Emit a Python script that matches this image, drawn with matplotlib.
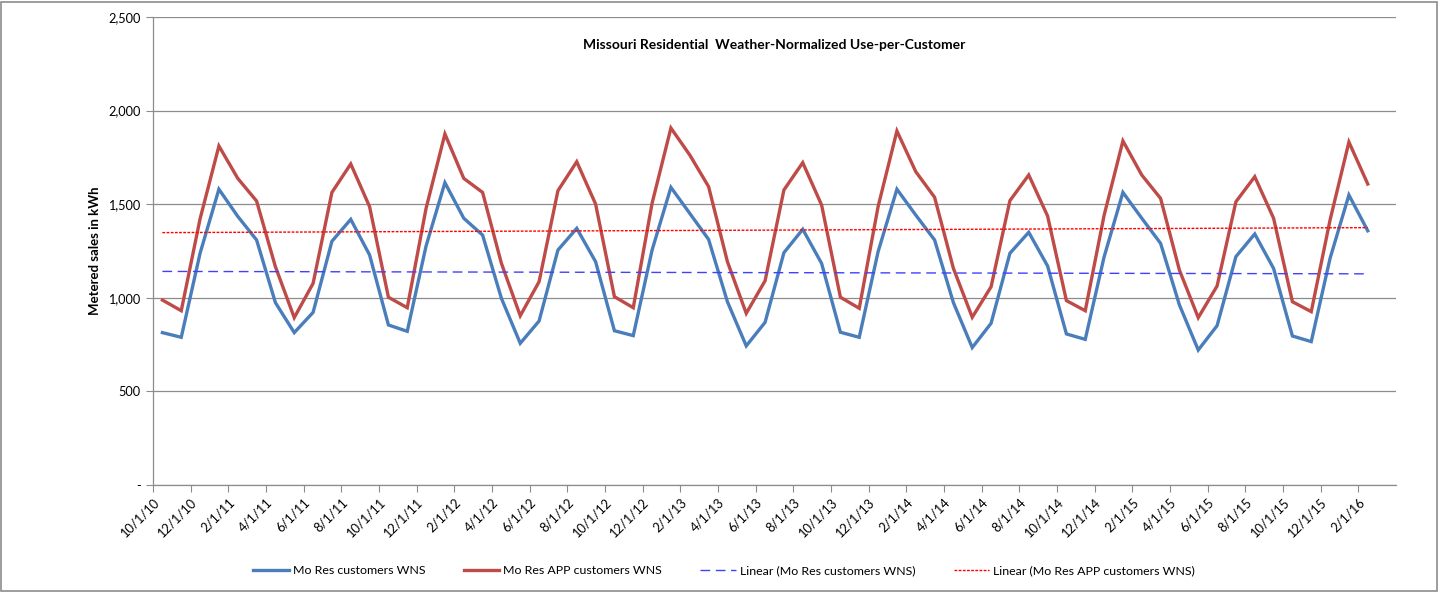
import numpy as np
import matplotlib
matplotlib.use("Agg")
import matplotlib.pyplot as plt
from matplotlib.patches import Rectangle

plt.rcParams['font.family'] = ['Lato', 'DejaVu Sans']

# Monthly values, 10/1/10 .. 2/1/16 (65 months)
res_wns = [814, 789, 1238, 1580, 1435, 1309, 974, 814, 922, 1302, 1419, 1229,
           855, 821, 1277, 1615, 1425, 1335, 997, 757, 876, 1255, 1371, 1193,
           824, 798, 1255, 1590, 1451, 1312, 979, 743, 869, 1241, 1366, 1184,
           816, 789, 1246, 1580, 1442, 1309, 974, 734, 864, 1238, 1350, 1170,
           807, 778, 1218, 1563, 1425, 1291, 962, 721, 851, 1220, 1341, 1157,
           796, 766, 1211, 1549, 1358]
app_wns = [988, 931, 1422, 1811, 1638, 1517, 1166, 894, 1077, 1563, 1715, 1487,
           1003, 947, 1478, 1875, 1638, 1563, 1184, 904, 1086, 1572, 1727, 1501,
           1006, 947, 1505, 1907, 1763, 1594, 1193, 917, 1091, 1576, 1722, 1496,
           1003, 944, 1487, 1891, 1674, 1537, 1157, 896, 1059, 1519, 1656, 1437,
           985, 931, 1440, 1838, 1656, 1531, 1148, 894, 1063, 1513, 1647, 1425,
           979, 926, 1416, 1832, 1608]

tick_labels = ['10/1/10', '12/1/10', '2/1/11', '4/1/11', '6/1/11', '8/1/11', '10/1/11',
               '12/1/11', '2/1/12', '4/1/12', '6/1/12', '8/1/12', '10/1/12', '12/1/12',
               '2/1/13', '4/1/13', '6/1/13', '8/1/13', '10/1/13', '12/1/13', '2/1/14',
               '4/1/14', '6/1/14', '8/1/14', '10/1/14', '12/1/14', '2/1/15', '4/1/15',
               '6/1/15', '8/1/15', '10/1/15', '12/1/15', '2/1/16']

series_names = ['Mo Res customers WNS', 'Mo Res APP customers WNS',
                'Linear (Mo Res customers WNS)', 'Linear (Mo Res APP customers WNS)']

x = np.arange(len(res_wns))

fig = plt.figure(figsize=(14.4, 5.92), dpi=100)
ax = fig.add_axes([153/1440, 1 - 485/592, (1396 - 153)/1440, (485 - 17)/592])

grid_c = '#8c8c8c'
ax.set_ylim(0, 2500)
ax.set_xlim(-0.5, 65.5)
ax.set_yticks(np.arange(0, 2501, 500))
ax.set_yticklabels(['-', '500', '1,000', '1,500', '2,000', '2,500'])
ax.yaxis.grid(True, color=grid_c, linewidth=0.9)
ax.set_axisbelow(True)

blue = '#4A7EBB'
red = '#BE4B48'
l1, = ax.plot(x, res_wns, color=blue, lw=2.4, label=series_names[0], solid_joinstyle='miter')
l2, = ax.plot(x, app_wns, color=red, lw=2.4, label=series_names[1], solid_joinstyle='miter')

c1 = np.polyfit(x, res_wns, 1)
c2 = np.polyfit(x, app_wns, 1)
l3, = ax.plot(x, np.polyval(c1, x), color='#4040FF', lw=1.0, ls=(0, (7, 4)), label=series_names[2])
l4, = ax.plot(x, np.polyval(c2, x), color='#FF0000', lw=1.0, ls=(0, (2, 1)), label=series_names[3])

ticks_pos = np.arange(len(tick_labels)) * 2 - 0.5
ax.set_xticks(ticks_pos)
ax.set_xticklabels(tick_labels, rotation=45, ha='right', rotation_mode='anchor', fontsize=9.3)
ax.tick_params(axis='x', length=5, color=grid_c, pad=3)
ax.tick_params(axis='y', length=5, color=grid_c, labelsize=9.2, pad=4)

for s in ['top', 'right']:
    ax.spines[s].set_visible(False)
for s in ['left', 'bottom']:
    ax.spines[s].set_color(grid_c)
    ax.spines[s].set_linewidth(0.9)

ax.set_ylabel('Metered sales in kWh', fontsize=9.5, fontweight='bold', labelpad=5)
ax.text(0.5, 0.94, 'Missouri Residential  Weather-Normalized Use-per-Customer',
        transform=ax.transAxes, ha='center', va='center', fontsize=10, fontweight='bold')

fig.legend(handles=[l1, l2, l3, l4], loc='center', bbox_to_anchor=(724/1440, 1 - 571/592),
           ncol=4, frameon=False, fontsize=8.9, columnspacing=3.1, handlelength=2.9,
           handletextpad=0.3)

fig.patches.append(Rectangle((1/1440, 1/592), 1436/1440, 589/592, transform=fig.transFigure,
                             fill=False, edgecolor='#8c8c8c', linewidth=1.2))

fig.savefig('out.png', dpi=100)
